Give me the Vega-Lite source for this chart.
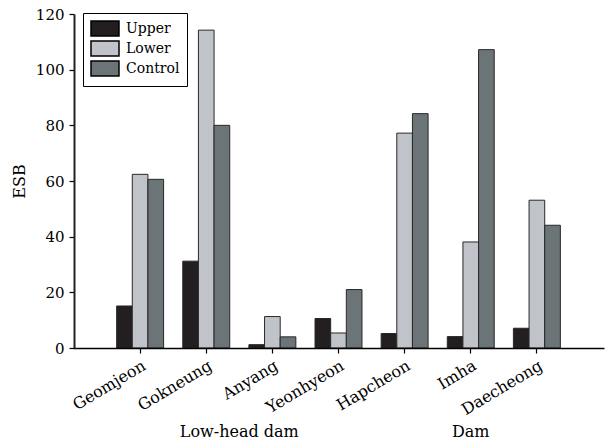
{
  "$schema": "https://vega.github.io/schema/vega-lite/v6.json",
  "width": 531,
  "height": 334,
  "autosize": {"type": "none"},
  "padding": {"left": 73, "top": 14, "right": 1, "bottom": 97},
  "background": "white",
  "config": {
    "view": {"stroke": null},
    "font": "DejaVu Serif",
    "axis": {"labelFont": "DejaVu Serif", "titleFont": "DejaVu Serif", "labelColor": "#000", "titleColor": "#000", "domainColor": "#000", "tickColor": "#000", "grid": false},
    "legend": {"labelFont": "DejaVu Serif"}
  },
  "layer": [
    {
      "data": {
        "values": [
          {"site": "Geomjeon", "series": "Upper", "esb": 15.1},
          {"site": "Geomjeon", "series": "Lower", "esb": 62.4},
          {"site": "Geomjeon", "series": "Control", "esb": 60.6},
          {"site": "Gokneung", "series": "Upper", "esb": 31.2},
          {"site": "Gokneung", "series": "Lower", "esb": 114.2},
          {"site": "Gokneung", "series": "Control", "esb": 80.0},
          {"site": "Anyang", "series": "Upper", "esb": 1.2},
          {"site": "Anyang", "series": "Lower", "esb": 11.3},
          {"site": "Anyang", "series": "Control", "esb": 4.0},
          {"site": "Yeonhyeon", "series": "Upper", "esb": 10.6},
          {"site": "Yeonhyeon", "series": "Lower", "esb": 5.4},
          {"site": "Yeonhyeon", "series": "Control", "esb": 21.0},
          {"site": "Hapcheon", "series": "Upper", "esb": 5.2},
          {"site": "Hapcheon", "series": "Lower", "esb": 77.2},
          {"site": "Hapcheon", "series": "Control", "esb": 84.2},
          {"site": "Imha", "series": "Upper", "esb": 4.1},
          {"site": "Imha", "series": "Lower", "esb": 38.1},
          {"site": "Imha", "series": "Control", "esb": 107.2},
          {"site": "Daecheong", "series": "Upper", "esb": 7.1},
          {"site": "Daecheong", "series": "Lower", "esb": 53.1},
          {"site": "Daecheong", "series": "Control", "esb": 44.1}
        ]
      },
      "mark": {"type": "bar", "stroke": "#2a2728", "strokeWidth": 1},
      "encoding": {
        "x": {
          "field": "site", "type": "nominal",
          "scale": {"domain": ["Geomjeon", "Gokneung", "Anyang", "Yeonhyeon", "Hapcheon", "Imha", "Daecheong"], "paddingInner": 0.29, "paddingOuter": 0.66},
          "axis": {"title": null, "labelAngle": -31, "labelFontSize": 16, "labelPadding": 4, "tickSize": 5, "domainWidth": 1.5, "tickWidth": 1.2, "zindex": 1}
        },
        "xOffset": {"field": "series", "type": "nominal", "sort": ["Upper", "Lower", "Control"]},
        "y": {
          "field": "esb", "type": "quantitative",
          "scale": {"domain": [0, 120], "nice": false},
          "axis": {"title": "ESB", "titleFontSize": 16, "titleFontWeight": "normal", "titlePadding": 8, "values": [0, 20, 40, 60, 80, 100, 120], "labelFontSize": 15, "labelPadding": 5, "tickSize": 5, "domain": true, "domainWidth": 2, "domainColor": "#222222", "tickWidth": 1.2, "offset": -1, "zindex": 1}
        },
        "color": {
          "field": "series", "type": "nominal",
          "scale": {"domain": ["Upper", "Lower", "Control"], "range": ["#231f20", "#c0c3ca", "#6b7476"]},
          "legend": {
            "title": null, "orient": "none", "legendX": 10, "legendY": -1,
            "padding": 7, "strokeColor": "#000", "fillColor": "#fff",
            "symbolType": "M-1,-1H2.733V1H-1Z", "symbolSize": 225,
            "symbolStrokeColor": "#000", "symbolStrokeWidth": 1.5, "symbolOpacity": 1,
            "labelFontSize": 14, "labelOffset": 19, "rowPadding": -1, "labelColor": "#000"
          }
        }
      }
    },
    {
      "data": {"values": [{"site": "Gokneung", "group": "Low-head dam"}]},
      "mark": {"type": "text", "y": "height", "dy": 84, "baseline": "middle", "align": "center", "fontSize": 16, "font": "DejaVu Serif", "color": "#000"},
      "encoding": {
        "x": {"field": "site", "type": "nominal", "bandPosition": 1.204, "title": null},
        "text": {"field": "group"}
      }
    },
    {
      "data": {"values": [{"site": "Imha", "group": "Dam"}]},
      "mark": {"type": "text", "y": "height", "dy": 84, "baseline": "middle", "align": "center", "fontSize": 16, "font": "DejaVu Serif", "color": "#000"},
      "encoding": {
        "x": {"field": "site", "type": "nominal", "bandPosition": 0.5, "title": null},
        "text": {"field": "group"}
      }
    }
  ]
}
